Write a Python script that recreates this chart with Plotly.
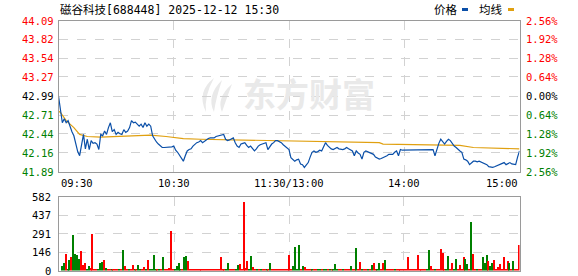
import plotly.graph_objects as go

W, H = 578, 276

title_text = "磁谷科技[688448] 2025-12-12 15:30"
prev_close = 42.99
price_ticks = [44.09, 43.82, 43.54, 43.27, 42.99, 42.71, 42.44, 42.16, 41.89]
price_tick_labels = ["44.09", "43.82", "43.54", "43.27", "42.99", "42.71", "42.44", "42.16", "41.89"]
pct_tick_labels = ["2.56%", "1.92%", "1.28%", "0.64%", "0.00%", "0.64%", "1.28%", "1.92%", "2.56%"]
vol_ticks = [0, 146, 291, 437, 582]
vol_tick_labels = ["0", "146", "291", "437", "582"]
time_tick_vals = [0, 60, 120, 180, 240]
time_tick_labels = ["09:30", "10:30", "11:30/13:00", "14:00", "15:00"]
legend_labels = ["价格", "均线"]

# minute-by-minute price (0 = 09:30 ... 240 = 15:00)
price = [
    42.99, 42.75, 42.60, 42.66, 42.60, 42.63, 42.53, 42.47, 42.41, 42.30,
    42.18, 42.12, 42.28, 42.43, 42.22, 42.36, 42.21, 42.34, 42.30, 42.31,
    42.29, 42.21, 42.43, 42.41, 42.48, 42.43, 42.53, 42.60, 42.47, 42.50,
    42.43, 42.46, 42.44, 42.43, 42.50, 42.46, 42.48, 42.53, 42.63, 42.60,
    42.61, 42.58, 42.55, 42.58, 42.53, 42.60, 42.55, 42.58, 42.55, 42.41,
    42.36, 42.32, 42.29, 42.26, 42.24, 42.24, 42.24, 42.24, 42.24, 42.25,
    42.26, 42.20, 42.17, 42.12, 42.09, 42.04, 42.12, 42.19, 42.21, 42.22,
    42.26, 42.29, 42.31, 42.32, 42.34, 42.31, 42.33, 42.36, 42.37, 42.38,
    42.38, 42.38, 42.40, 42.41, 42.41, 42.42, 42.43, 42.36, 42.34, 42.35,
    42.36, 42.38, 42.31, 42.26, 42.24, 42.29, 42.30, 42.31, 42.27, 42.24,
    42.26, 42.23, 42.19, 42.22, 42.26, 42.28, 42.29, 42.30, 42.31, 42.21,
    42.25, 42.29, 42.31, 42.34, 42.34, 42.33, 42.31, 42.28, 42.26, 42.24,
    42.21, 42.09, 42.06, 42.04, 42.06, 42.07, 42.00, 41.99, 41.95, 41.98,
    42.02, 42.10, 42.17, 42.19, 42.17, 42.18, 42.20, 42.19, 42.24, 42.31,
    42.27, 42.24, 42.22, 42.21, 42.23, 42.24, 42.22, 42.21, 42.21, 42.22,
    42.24, 42.22, 42.21, 42.19, 42.12, 42.19, 42.16, 42.14, 42.07, 42.17,
    42.19, 42.18, 42.17, 42.15, 42.14, 42.10, 42.09, 42.07, 42.08, 42.09,
    42.11, 42.12, 42.14, 42.14, 42.14, 42.17, 42.19, 42.12, 42.21, 42.20,
    42.20, 42.20, 42.20, 42.20, 42.20, 42.20, 42.20, 42.20, 42.20, 42.20,
    42.20, 42.20, 42.20, 42.20, 42.21, 42.21, 42.12, 42.22, 42.30, 42.36,
    42.33, 42.29, 42.33, 42.36, 42.34, 42.30, 42.26, 42.24, 42.21, 42.19,
    42.17, 42.07, 42.06, 42.04, 41.99, 42.02, 42.04, 42.04, 42.03, 42.04,
    42.03, 42.02, 42.00, 41.99, 41.96, 41.95, 41.95, 41.96, 41.97, 41.98,
    41.99, 42.01, 42.02, 41.99, 42.00, 42.02, 42.00, 41.99, 41.99, 42.10,
    42.19,
]

# average-price line, read at its visible bends
avg_min = [0, 1, 4, 8, 11, 15, 22, 39, 48, 56, 65, 74, 91, 108, 126, 140, 167, 169, 195, 209, 216, 240]
avg_val = [42.77, 42.75, 42.63, 42.53, 42.43, 42.40, 42.39, 42.41, 42.42, 42.40, 42.37, 42.36,
           42.35, 42.34, 42.33, 42.32, 42.31, 42.29, 42.28, 42.27, 42.24, 42.22]

# per-minute volume and direction (1 = up/red, -1 = down/green)
volume = [
    0, 32, 56, 127, 13, 87, 103, 278, 127, 119,
    95, 151, 40, 56, 13, 32, 16, 286, 10, 8,
    8, 56, 71, 87, 16, 8, 6, 8, 6, 8,
    6, 8, 6, 159, 32, 8, 6, 10, 40, 6,
    8, 40, 6, 8, 24, 6, 87, 8, 13, 119,
    8, 6, 8, 6, 103, 8, 6, 16, 309, 10,
    6, 32, 56, 13, 8, 103, 111, 79, 8, 6,
    8, 6, 8, 6, 8, 6, 8, 6, 8, 6,
    8, 6, 8, 8, 103, 6, 8, 6, 56, 8,
    6, 8, 6, 40, 48, 8, 540, 16, 79, 8,
    111, 24, 8, 6, 8, 6, 8, 6, 8, 6,
    63, 8, 6, 8, 6, 8, 6, 8, 6, 8,
    119, 8, 32, 183, 10, 198, 8, 32, 24, 8,
    6, 8, 6, 8, 6, 8, 13, 6, 8, 13,
    8, 6, 8, 10, 48, 13, 6, 8, 6, 10,
    6, 8, 32, 8, 6, 175, 8, 71, 10, 6,
    8, 6, 8, 40, 63, 6, 8, 63, 8, 63,
    87, 8, 6, 8, 6, 8, 6, 8, 6, 8,
    6, 8, 103, 6, 8, 6, 8, 119, 6, 8,
    6, 8, 6, 159, 32, 8, 13, 6, 8, 167,
    135, 8, 6, 111, 8, 63, 6, 95, 8, 40,
    8, 103, 95, 48, 8, 381, 127, 8, 13, 8,
    8, 103, 56, 119, 79, 32, 56, 87, 8, 24,
    48, 8, 103, 8, 79, 63, 8, 79, 8, 8,
    198,
]
vol_dir = [
    1, -1, -1, 1, -1, -1, 1, -1, -1, -1,
    -1, 1, 1, 1, -1, -1, 1, 1, 1, 1,
    -1, -1, -1, 1, -1, 1, 1, -1, 1, 1,
    1, -1, 1, -1, 1, 1, -1, 1, 1, -1,
    1, -1, -1, 1, 1, -1, 1, -1, -1, -1,
    -1, 1, -1, 1, -1, 1, 1, 1, 1, 1,
    -1, -1, -1, -1, 1, -1, -1, 1, 1, 1,
    1, 1, 1, 1, 1, 1, 1, 1, 1, 1,
    1, 1, 1, 1, 1, 1, 1, -1, -1, 1,
    1, 1, -1, -1, 1, 1, 1, 1, 1, -1,
    -1, 1, 1, -1, 1, -1, 1, 1, -1, 1,
    -1, 1, 1, 1, 1, 1, 1, 1, 1, 1,
    1, 1, -1, -1, -1, -1, 1, -1, 1, 1,
    1, 1, -1, 1, 1, -1, -1, 1, -1, -1,
    1, -1, 1, -1, -1, -1, 1, 1, -1, 1,
    1, 1, -1, 1, 1, -1, 1, 1, -1, 1,
    1, -1, 1, -1, 1, 1, -1, -1, 1, 1,
    -1, 1, 1, 1, 1, -1, 1, 1, 1, 1,
    1, 1, 1, 1, 1, 1, 1, 1, 1, 1,
    1, 1, -1, -1, 1, 1, -1, 1, 1, 1,
    1, 1, -1, -1, 1, 1, -1, -1, 1, 1,
    1, 1, -1, -1, 1, -1, 1, 1, -1, 1,
    1, -1, -1, -1, 1, -1, -1, 1, 1, 1,
    1, 1, 1, 1, 1, -1, 1, -1, 1, 1,
    1,
]

# ---------- styling / layout ----------
RED = "#ff0000"
GREEN = "#008000"
BLUE = "#0a4fa8"
GOLD = "#e0a010"
BORDER = "#9a9a9a"
GRID = "#d2d2d2"
MONO = "DejaVu Sans Mono, Noto Sans CJK SC"
FS = 10.5

def px(x):
    return x / W

def py(y):
    return 1 - y / H

X0, X1 = 58.5, 519.5
MAIN_T, MAIN_B = 20.5, 171.5
VOL_T, VOL_B = 197.0, 270.5

minutes = list(range(len(price)))

fig = go.Figure()
fig.add_trace(go.Scatter(x=avg_min, y=avg_val, mode="lines",
                         line=dict(color=GOLD, width=1.2), xaxis="x", yaxis="y",
                         hoverinfo="skip"))
fig.add_trace(go.Scatter(x=minutes, y=price, mode="lines",
                         line=dict(color=BLUE, width=1.2), xaxis="x", yaxis="y",
                         hoverinfo="skip"))
fig.add_trace(go.Bar(x=list(range(len(volume))), y=volume, width=0.55,
                     marker=dict(color=[RED if d > 0 else GREEN for d in vol_dir], line=dict(width=0)),
                     xaxis="x2", yaxis="y2", hoverinfo="skip"))

axis_common = dict(showline=True, linecolor=BORDER, linewidth=1.2, mirror=True,
                   showgrid=True, gridcolor=GRID, griddash="dash", gridwidth=1,
                   zeroline=False, showticklabels=False, ticks="", fixedrange=True)

fig.update_layout(
    width=W, height=H,
    margin=dict(l=0, r=0, t=0, b=0),
    paper_bgcolor="white", plot_bgcolor="white",
    showlegend=False,
    bargap=0,
    xaxis=dict(domain=[px(X0), px(X1)], range=[0, 240], tickmode="array",
               tickvals=time_tick_vals, anchor="y", **axis_common),
    yaxis=dict(domain=[py(MAIN_B), py(MAIN_T)], range=[price_ticks[-1], price_ticks[0]],
               tickmode="array", tickvals=price_ticks, anchor="x", **axis_common),
    xaxis2=dict(domain=[px(X0), px(X1)], range=[-0.5, 240.5], tickmode="array",
                tickvals=time_tick_vals, anchor="y2", **axis_common),
    yaxis2=dict(domain=[py(VOL_B), py(VOL_T)], range=[0, vol_ticks[-1]],
                tickmode="array", tickvals=vol_ticks, anchor="x2", **axis_common),
)

ann = []
# title
ann.append(dict(text=title_text, x=px(58), y=py(9.5), xref="paper", yref="paper",
                xanchor="left", yanchor="middle", showarrow=False,
                font=dict(family=MONO, size=FS + 1, color="#000")))
# legend
ann.append(dict(text=legend_labels[0], x=px(432), y=py(9.5), xref="paper", yref="paper",
                xanchor="left", yanchor="middle", showarrow=False,
                font=dict(family=MONO, size=FS + 1, color="#000")))
ann.append(dict(text=legend_labels[1], x=px(477), y=py(9.5), xref="paper", yref="paper",
                xanchor="left", yanchor="middle", showarrow=False,
                font=dict(family=MONO, size=FS + 1, color="#000")))

# price / pct labels
for v, lab, plab in zip(price_ticks, price_tick_labels, pct_tick_labels):
    if v > prev_close + 1e-9:
        c = RED
    elif v < prev_close - 1e-9:
        c = GREEN
    else:
        c = "#000"
    ann.append(dict(text=lab, x=px(56), y=v, xref="paper", yref="y",
                    xanchor="right", yanchor="middle", showarrow=False,
                    font=dict(family=MONO, size=FS, color=c)))
    ann.append(dict(text=plab, x=px(524), y=v, xref="paper", yref="y",
                    xanchor="left", yanchor="middle", showarrow=False,
                    font=dict(family=MONO, size=FS, color=c)))

# volume labels
for v, lab in zip(vol_ticks, vol_tick_labels):
    ann.append(dict(text=lab, x=px(53), y=v, xref="paper", yref="y2",
                    xanchor="right", yanchor="middle", showarrow=False,
                    font=dict(family=MONO, size=FS, color="#000")))

# time labels
for i, (t, lab) in enumerate(zip(time_tick_vals, time_tick_labels)):
    if i == 0:
        xa = "left"
    elif i == len(time_tick_vals) - 1:
        xa = "right"
    else:
        xa = "center"
    ann.append(dict(text=lab, x=t, y=py(182.5), xref="x", yref="paper",
                    xanchor=xa, yanchor="middle", showarrow=False,
                    font=dict(family=MONO, size=FS, color="#000")))

# watermark
ann.append(dict(text="<b>东方财富</b>", x=px(309), y=py(93), xref="paper", yref="paper",
                xanchor="center", yanchor="middle", showarrow=False,
                font=dict(family="Noto Sans CJK SC", size=33, color="#e9e9e9")))
fig.update_layout(annotations=ann)

shapes = [
    dict(type="rect", xref="paper", yref="paper", x0=px(462), x1=px(468), y0=py(11), y1=py(8),
         fillcolor=BLUE, line=dict(width=0)),
    dict(type="rect", xref="paper", yref="paper", x0=px(508), x1=px(514), y0=py(11), y1=py(8),
         fillcolor=GOLD, line=dict(width=0)),
]
# watermark logo (swoosh)
def P(x, y):
    return f"{px(x):.4f},{py(y):.4f}"
logo1 = "M " + P(214, 78) + " Q " + P(196, 92) + " " + P(206, 112) + " Q " + P(204, 96) + " " + P(214, 78) + " Z"
logo2 = "M " + P(222, 80) + " Q " + P(206, 96) + " " + P(214, 112) + " Q " + P(216, 98) + " " + P(222, 80) + " Z"
logo3 = "M " + P(232, 84) + " Q " + P(216, 98) + " " + P(222, 112) + " Q " + P(226, 100) + " " + P(232, 84) + " Z"
for pth in (logo1, logo2, logo3):
    shapes.append(dict(type="path", xref="paper", yref="paper", path=pth,
                       fillcolor="#e9e9e9", line=dict(width=0), layer="below"))
fig.update_layout(shapes=shapes)

fig.write_html("out.html")
